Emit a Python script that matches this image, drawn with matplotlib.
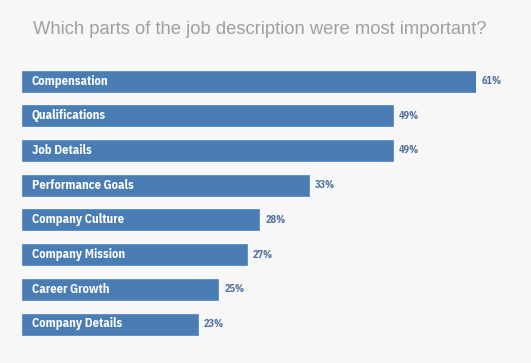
import matplotlib
matplotlib.use("Agg")
import matplotlib.pyplot as plt
from matplotlib.transforms import offset_copy

title = "Which parts of the job description were most important?"
categories = ["Compensation", "Qualifications", "Job Details", "Performance Goals",
              "Company Culture", "Company Mission", "Career Growth", "Company Details"]
values = [61, 49, 49, 33, 28, 27, 25, 23]
# bar lengths as drawn in the picture (same percent scale as the top bar)
bar_lengths = [61, 49.9, 49.9, 38.6, 31.9, 30.2, 26.4, 23.6]

W, H = 531, 363
fig = plt.figure(figsize=(W / 100, H / 100), dpi=100)
bg = "#f7f7f7"
fig.patch.set_facecolor(bg)

pitch = (324 - 81) / 7
top = 81 - 0.5 * pitch
bottom = 324 + 0.5 * pitch
left = 22
width = 453.7
ax = fig.add_axes([left / W, 1 - bottom / H, width / W, (bottom - top) / H])
ax.set_facecolor(bg)
ax.set_xlim(0, 61)
ax.set_ylim(len(categories) - 0.5, -0.5)
ax.axis("off")

bar_color = "#4a7db4"
bh = 21 / pitch
narrow = ["IBM Plex Sans Condensed", "DejaVu Sans"]
for i, (cat, v, L) in enumerate(zip(categories, values, bar_lengths)):
    ax.barh(i, L, height=bh, color=bar_color, edgecolor="#5b8cc2", linewidth=0.6)
    ax.text(0, i, cat, transform=offset_copy(ax.transData, fig=fig, x=10, y=0, units="dots"),
            ha="left", va="center", color="white", fontsize=9.0, fontweight="bold",
            family=narrow)
    ax.text(L, i, f"{v}%", transform=offset_copy(ax.transData, fig=fig, x=6, y=0, units="dots"),
            ha="left", va="center", color="#4d6e9c", fontsize=7.4, fontweight="bold",
            family=narrow)

fig.text(33 / W, 1 - 29 / H, title, ha="left", va="center", color="#a0a0a0",
         fontsize=13.2, family="Liberation Sans")

fig.savefig("out.png", dpi=100, facecolor=bg)
